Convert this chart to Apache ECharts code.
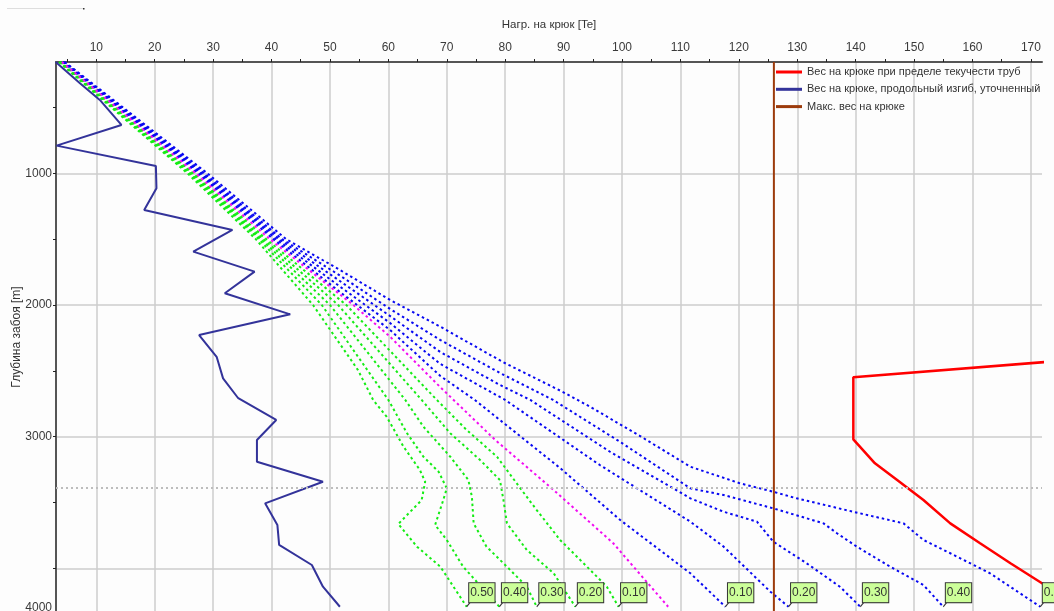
<!DOCTYPE html>
<html><head><meta charset="utf-8">
<script src="https://cdn.jsdelivr.net/npm/echarts@6.0.0/dist/echarts.min.js"></script>
<style>html,body{margin:0;padding:0;background:#fdfdfd}#c{width:1054px;height:611px}</style>
</head><body><div id="c"></div><script>
// ---- axes ----
const xMin = 3.1, xMax = 171.9;
const yMin = 155, yMax = 4331;
const xTickValues = [5,10,15,20,25,30,35,40,45,50,55,60,65,70,75,80,85,90,95,100,105,110,115,120,125,130,135,140,145,150,155,160,165,170];
const xLabelValues = [10,20,30,40,50,60,70,80,90,100,110,120,130,140,150,160,170];
const yTickValues = [500,1000,1500,2000,2500,3000,3500,4000];
const yGridValues = [1000,2000,3000,4000];
const yLabelValues = [1000,2000,3000,4296];
const yLabelTexts = ['1000','2000','3000','4000'];

// ---- hook load, buckling (solid dark blue) ----
const solidLoad  = [3.05,7.2,10.6,14.3,3.2,20.2,20.3,18.2,33.3,26.6,37.1,32.0,43.2,27.6,30.6,31.7,34.3,40.8,37.5,37.5,48.8,38.9,41.0,41.3,46.9,48.8,51.7];
const solidDepth = [155,317,443,633,790,945,1114,1279,1430,1595,1747,1911,2071,2228,2393,2557,2708,2873,3025,3190,3342,3506,3670,3822,3974,4139,4291];

// ---- hook load at pipe yield (red) ----
const yieldLoad  = [175.0,139.6,139.6,143.3,147.1,151.6,156.2,161.3,166.5,171.9,175.0];
const yieldDepth = [2424,2549,3020,3202,3329,3481,3658,3809,3961,4113,4201];

// ---- max hook load (brown) and marker depth ----
const maxHookLoad = 126;
const markerDepth = 3390;

// ---- friction curves [load, depth] ----
const frictionNames = ['0.10','0.20','0.30','0.40','0.50'];
const neutral = [[4.1,155],[27.0,1000],[39.7,1500],[54.0,2000],[60.3,2241],[68.8,2620],[78.3,3025],[88.3,3405],[98.5,3809],[107.9,4291]];

const pickUp010 = [[4.2,155],[27.4,1000],[40.3,1500],[51.7,1901],[60.3,2190],[68.9,2539],[74.8,2721],[89.4,3238],[99.7,3633],[111.7,4037],[117.7,4291]];
const pickUp020 = [[4.3,155],[27.8,1000],[40.8,1500],[51.7,1860],[60.3,2137],[68.9,2448],[80.0,2721],[96.2,3215],[111.7,3645],[117.4,3835],[125.4,4177],[128.5,4291]];
const pickUp030 = [[4.4,155],[28.1,1000],[41.3,1500],[51.7,1818],[60.3,2084],[68.9,2357],[79.1,2607],[84.3,2721],[98.0,3116],[111.7,3468],[117.4,3570],[123.1,3645],[125.9,3797],[131.6,3961],[137.3,4139],[140.8,4291]];
const pickUp040 = [[4.5,155],[28.5,1000],[41.8,1500],[51.7,1776],[60.3,2030],[68.9,2266],[79.1,2516],[88.2,2721],[99.7,3040],[111.7,3392],[117.4,3443],[125.9,3544],[134.5,3658],[136.8,3733],[140.2,3835],[145.9,3987],[151.6,4126],[155.0,4291]];
const pickUp050 = [[4.6,155],[29.0,1000],[42.5,1500],[51.7,1734],[60.3,1962],[68.9,2165],[79.6,2433],[89.9,2661],[94.5,2772],[103.1,2995],[111.7,3228],[120.2,3354],[125.9,3418],[129.9,3468],[139.6,3570],[148.2,3658],[151.6,3784],[156.2,3885],[163.0,4037],[171.6,4291]];

const slackOff010 = [[4.0,155],[26.6,1000],[39.1,1500],[52.8,2000],[68.3,2721],[73.4,2949],[78.6,3152],[82.6,3392],[85.4,3557],[89.4,3784],[94.0,3987],[97.4,4139],[99.4,4291]];
const slackOff020 = [[3.9,155],[26.4,1000],[38.6,1500],[51.4,2000],[65.7,2721],[70.6,2974],[75.7,3177],[79.1,3329],[79.7,3481],[80.3,3658],[83.7,3860],[88.3,4037],[92.0,4291]];
const slackOff030 = [[3.8,155],[26.1,1000],[38.2,1500],[50.0,2000],[62.9,2721],[66.0,2924],[70.6,3152],[73.7,3329],[74.3,3456],[74.6,3658],[76.8,3835],[80.3,3987],[83.7,4139],[85.4,4291]];
const slackOff040 = [[3.7,155],[25.9,1000],[37.8,1500],[48.6,2000],[60.0,2721],[63.2,2974],[66.0,3152],[68.6,3266],[70.0,3392],[69.4,3481],[68.0,3670],[70.0,3784],[72.8,3987],[79.0,4291]];
const slackOff050 = [[3.6,155],[25.6,1000],[37.3,1500],[47.1,2000],[54.8,2494],[57.4,2721],[59.7,2848],[62.6,3076],[65.4,3253],[66.3,3342],[65.7,3481],[61.7,3663],[64.9,3835],[68.9,3987],[73.4,4291]];

const pickUpCurves = [pickUp010, pickUp020, pickUp030, pickUp040, pickUp050];
const slackOffCurves = [slackOff010, slackOff020, slackOff030, slackOff040, slackOff050];

const legendRed = 'Вес на крюке при пределе текучести труб';
const legendBlue = 'Вес на крюке, продольный изгиб, уточненный';
const legendBrown = 'Макс. вес на крюке';

const FONT = '"Liberation Sans", Arial, sans-serif';
const GREEN = '#14ec14', BLUE = '#0808f2', MAGENTA = '#f20cf2';

function dotted(name, data, color) {
  return { name, type: 'line', data, symbol: 'none', showSymbol: false, silent: true, z: 2,
    color, lineStyle: { color, width: 2, type: [2.5, 3] } };
}

const series = [];
slackOffCurves.forEach((c, i) => series.push(dotted('slack ' + frictionNames[i], c, GREEN)));
pickUpCurves.forEach((c, i) => series.push(dotted('pick ' + frictionNames[i], c, BLUE)));
series.push(dotted('neutral', neutral, MAGENTA));

series.push({ name: legendBlue, type: 'line', symbol: 'none', silent: true, z: 3, color: '#33339a',
  data: solidLoad.map((v, i) => [v, solidDepth[i]]), lineStyle: { color: '#33339a', width: 2 } });
series.push({ name: legendRed, type: 'line', symbol: 'none', silent: true, z: 3, color: '#ff0000',
  data: yieldLoad.map((v, i) => [v, yieldDepth[i]]), lineStyle: { color: '#ff0000', width: 2.5 } });
series.push({ name: legendBrown, type: 'line', symbol: 'none', silent: true, z: 4, color: '#9c3b0c',
  data: [[maxHookLoad, yMin], [maxHookLoad, yMax]], lineStyle: { color: '#9c3b0c', width: 2 },
  markLine: { silent: true, symbol: 'none', label: { show: false },
    lineStyle: { color: '#bdbdbd', width: 2, type: [2, 3] }, data: [{ yAxis: markerDepth }] } });

const labelData = [];
slackOffCurves.forEach((c, i) => labelData.push({ name: frictionNames[i], value: c[c.length - 1] }));
pickUpCurves.forEach((c, i) => labelData.push({ name: frictionNames[i], value: c[c.length - 1] }));
series.push({ name: 'labels', type: 'scatter', silent: true, z: 6, data: labelData,
  symbol: 'path://M0,10L10,0', symbolSize: [4, 5], symbolOffset: [2, -2.5],
  itemStyle: { color: 'transparent', borderColor: '#333', borderWidth: 1, opacity: 1 },
  label: { show: true, formatter: p => p.name, position: [3, 1], align: 'left', verticalAlign: 'bottom',
    backgroundColor: '#ccff99', borderColor: '#333', borderWidth: 1, padding: [3, 1, 2, 1],
    fontFamily: FONT, fontSize: 12, color: '#333', lineHeight: 14 } });

const chart = echarts.init(document.getElementById('c'), null, { renderer: 'canvas' });
chart.setOption({
  animation: false,
  backgroundColor: '#fdfdfd',
  textStyle: { fontFamily: FONT },
  grid: { left: 56, top: 62, width: 986, height: 550, containLabel: false, outerBoundsMode: 'none' },
  legend: {
    data: [legendRed, legendBlue, legendBrown], orient: 'vertical', left: 776, top: 65, padding: 0,
    icon: 'rect', itemWidth: 26, itemHeight: 3, itemGap: 3.3, selectedMode: false,
    textStyle: { fontFamily: FONT, fontSize: 11, color: '#333', lineHeight: 14 }
  },
  xAxis: [{
    type: 'value', position: 'top', min: xMin, max: xMax,
    name: 'Нагр. на крюк [Te]', nameLocation: 'middle', nameGap: 31, nameMoveOverlap: false,
    nameTextStyle: { fontFamily: FONT, fontSize: 11.5, color: '#333' },
    axisLine: { show: true, lineStyle: { color: '#555', width: 2 } },
    axisTick: { show: true, customValues: xTickValues, length: 3, lineStyle: { color: '#222' } },
    axisLabel: { customValues: xLabelValues, margin: 8, fontFamily: FONT, fontSize: 12, color: '#3a3a3a' },
    splitLine: { show: false }
  }, {
    type: 'value', position: 'top', min: xMin, max: xMax,
    axisLine: { show: false }, axisLabel: { show: false },
    axisTick: { show: false, customValues: xLabelValues },
    splitLine: { show: true, lineStyle: { color: '#cdcdcd', width: 1.5 } }
  }],
  yAxis: [{
    type: 'value', inverse: true, min: yMin, max: yMax, position: 'left',
    name: 'Глубина забоя [m]', nameLocation: 'middle', nameGap: 33, nameMoveOverlap: false,
    nameTextStyle: { fontFamily: FONT, fontSize: 12, color: '#333' },
    axisLine: { show: true, lineStyle: { color: '#555', width: 2 } },
    axisTick: { show: true, customValues: yTickValues, length: 3, lineStyle: { color: '#222' } },
    axisLabel: { customValues: yLabelValues, margin: 4, fontFamily: FONT, fontSize: 12, color: '#3a3a3a',
      formatter: v => yLabelTexts[yLabelValues.indexOf(v)] },
    splitLine: { show: false }
  }, {
    type: 'value', inverse: true, min: yMin, max: yMax, position: 'left',
    axisLine: { show: false }, axisLabel: { show: false },
    axisTick: { show: false, customValues: yGridValues },
    splitLine: { show: true, lineStyle: { color: '#cdcdcd', width: 1.5 } }
  }],
  graphic: [
    { type: 'line', shape: { x1: 7, y1: 8.5, x2: 83, y2: 8.5 }, style: { stroke: '#dedede', lineWidth: 1 } },
    { type: 'rect', shape: { x: 83, y: 8, width: 1.5, height: 1.5 }, style: { fill: '#333' } }
  ],
  series
});
</script></body></html>
